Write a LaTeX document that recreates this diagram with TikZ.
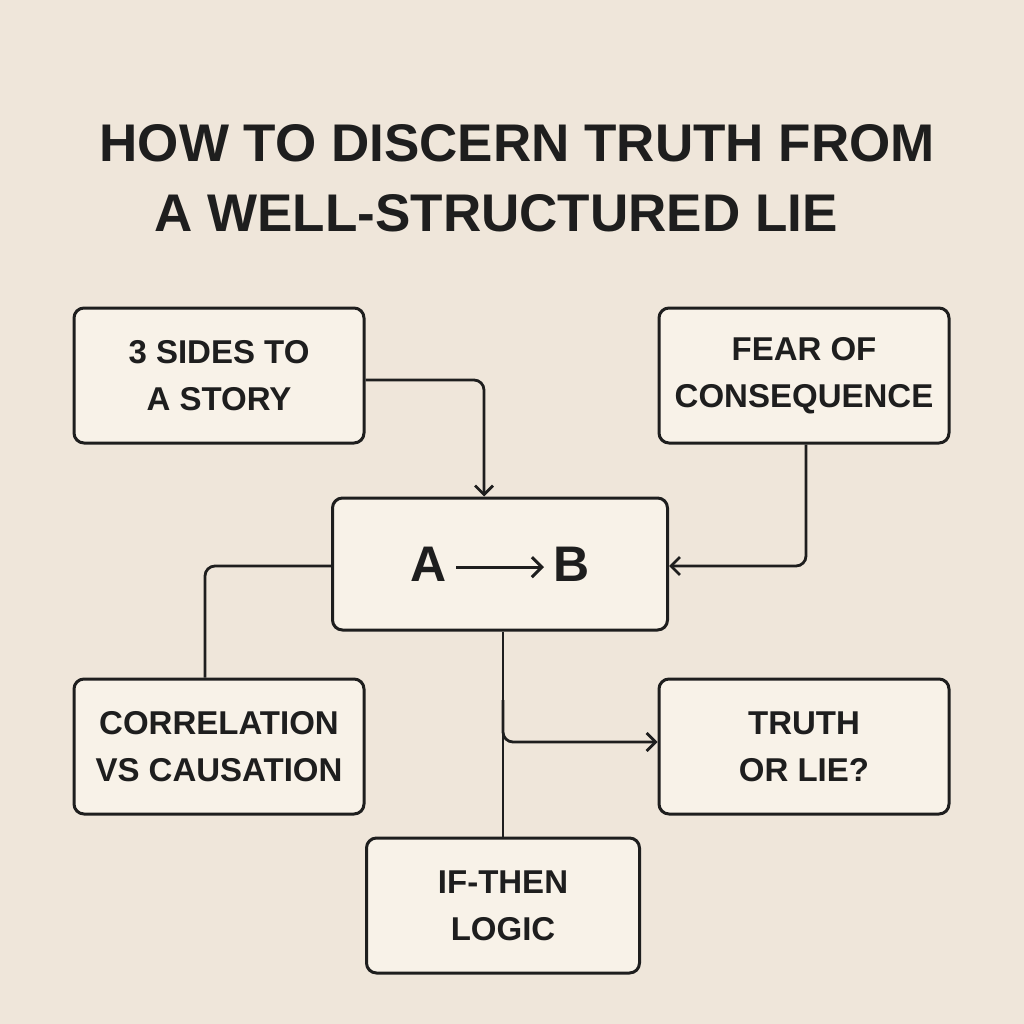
\documentclass[tikz,border=0pt]{standalone}
\usepackage{fontspec}
\setmainfont{Liberation Sans}
\usetikzlibrary{arrows.meta}
\definecolor{bg}{HTML}{EFE6DA}
\definecolor{bx}{HTML}{F8F2E8}
\definecolor{ink}{HTML}{1E1E1E}
\newcommand{\abarrow}{\tikz[baseline={(0,-14pt)},x=1pt,y=1pt]\draw[ink,line width=3pt,-{Straight Barb[length=10pt,width=20pt,line width=3pt]}] (0,0)--(88,0);}
\begin{document}
\begin{tikzpicture}[x=1pt,y=-1pt,
  box/.style={draw=ink,line width=3pt,fill=bx,rounded corners=10pt,align=center,
    font=\fontsize{33}{47}\selectfont\bfseries,text=ink,inner sep=0pt},
  con/.style={draw=ink,line width=2.8pt,rounded corners=10pt},
  arr/.style={con,-{Straight Barb[length=9pt,width=18pt,line width=2.8pt]}}]
\fill[bg] (0,0) rectangle (1024,1024);
\useasboundingbox (0,0) rectangle (1024,1024);
\node[font=\fontsize{53}{58}\selectfont\bfseries,text=ink,anchor=west] (t1) at (96,143) {HOW TO DISCERN TRUTH FROM};
\node[font=\fontsize{53}{58}\selectfont\bfseries,text=ink,anchor=west] (t2) at (151,213) {A WELL-STRUCTURED LIE};
\node[box,minimum width=290pt,minimum height=135pt] (s3) at (219,375.5) {3 SIDES TO\\A STORY};
\node[box,minimum width=290pt,minimum height=135pt] (fc) at (804,375.5) {FEAR OF\\CONSEQUENCE};
\node[box,minimum width=335pt,minimum height=132pt,font=\fontsize{50}{56}\selectfont\bfseries] (ab) at (500,564) {A\,\abarrow\,B};
\node[box,minimum width=290pt,minimum height=135pt] (cr) at (219,746.5) {CORRELATION\\VS CAUSATION};
\node[box,minimum width=290pt,minimum height=135pt] (tl) at (804,746.5) {TRUTH\\OR LIE?};
\node[box,minimum width=273pt,minimum height=135pt] (it) at (503,905.5) {IF-THEN\\LOGIC};
\coordinate (j) at (503,742);
\draw[arr] (s3.east |- 0,380) -| (484,0 |- ab.north);
\draw[arr] (fc.south -| 806,0) |- (ab.east |- 0,566);
\draw[con] (ab.west |- 0,566) -| (cr.north -| 205,0);
\draw[con] (ab.south -| 503,0) -- (it.north -| 503,0);
\draw[arr] (503,700) |- (tl.west |- j);
\end{tikzpicture}
\end{document}
